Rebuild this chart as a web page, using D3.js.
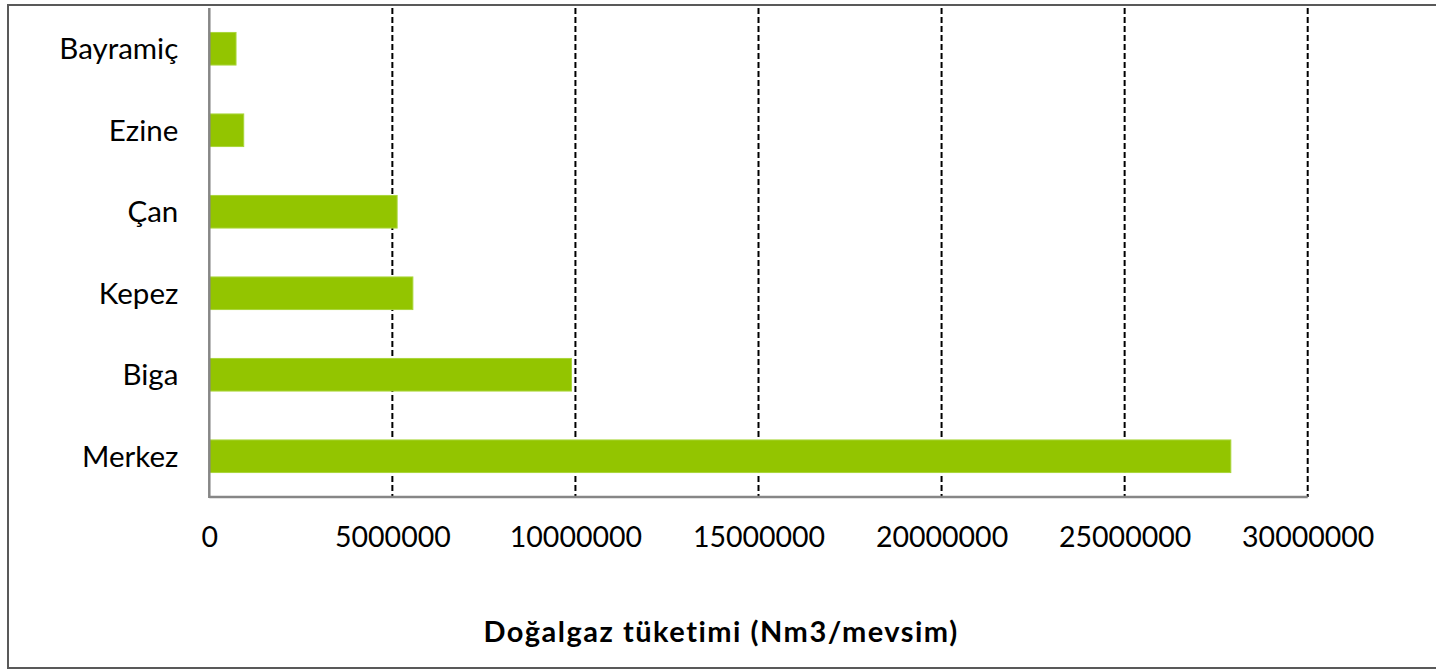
<!DOCTYPE html>
<html>
<head>
<meta charset="utf-8">
<script src="https://cdn.jsdelivr.net/npm/d3@7"></script>
<style>
  html, body { margin: 0; padding: 0; background: #fff; }
  svg { display: block; }
  text { font-family: Lato, "Open Sans", sans-serif; fill: #000; }
</style>
</head>
<body>
<svg id="chart" width="1436" height="671"></svg>
<script>
// Natural gas consumption by district (Nm3 per season)
const districts = ["Bayramiç", "Ezine", "Çan", "Kepez", "Biga", "Merkez"];
const consumption = [730000, 940000, 5130000, 5560000, 9890000, 27900000];
const xTicks = [0, 5000000, 10000000, 15000000, 20000000, 25000000, 30000000];
const xTitle = "Doğalgaz tüketimi (Nm3/mevsim)";

const rows = districts.map((d, i) => ({ name: d, value: consumption[i] }));

const svg = d3.select("#chart");
const W = 1436, H = 671;

// outer chart frame (right edge runs past the canvas)
svg.append("rect")
  .attr("x", 8).attr("y", 5)
  .attr("width", W).attr("height", 663)
  .attr("fill", "#fff")
  .attr("stroke", "#595959").attr("stroke-width", 2);

const plot = { left: 209.3, right: 1307.7, top: 8, bottom: 497 };

const x = d3.scaleLinear()
  .domain([0, 30000000])
  .range([plot.left, plot.right]);

const y = d3.scaleBand()
  .domain(districts)
  .range([plot.top, plot.bottom])
  .paddingInner(0.6)
  .paddingOuter(0.3);

// dashed vertical gridlines
svg.append("g")
  .selectAll("line")
  .data(xTicks.filter(t => t > 0))
  .join("line")
  .attr("x1", d => x(d)).attr("x2", d => x(d))
  .attr("y1", plot.top).attr("y2", plot.bottom)
  .attr("stroke", "#000")
  .attr("stroke-width", 2)
  .attr("stroke-dasharray", "6,3");

// bars
svg.append("g")
  .selectAll("rect")
  .data(rows)
  .join("rect")
  .attr("x", x(0))
  .attr("y", d => y(d.name))
  .attr("width", d => x(d.value) - x(0))
  .attr("height", y.bandwidth())
  .attr("fill", "#93c500")
  .attr("stroke", "#a9d63a")
  .attr("stroke-width", 1);

// x axis
const xAxis = d3.axisBottom(x)
  .tickValues(xTicks)
  .tickFormat(d3.format("d"))
  .tickSize(0)
  .tickPadding(30);

const gx = svg.append("g")
  .attr("transform", `translate(0,${plot.bottom})`)
  .call(xAxis);
gx.select(".domain").remove();
gx.selectAll("text")
  .style("font-family", "Lato, sans-serif")
  .style("font-size", "28.5px")
  .attr("fill", "#000");

svg.append("line")
  .attr("x1", plot.left).attr("x2", plot.right)
  .attr("y1", plot.bottom).attr("y2", plot.bottom)
  .attr("stroke", "#868686").attr("stroke-width", 2.5);

// y axis
const yAxis = d3.axisLeft(y).tickSize(0).tickPadding(31);
const gy = svg.append("g")
  .attr("transform", `translate(${plot.left},0)`)
  .call(yAxis);
gy.select(".domain").remove();
gy.selectAll("text")
  .style("font-family", "Lato, sans-serif")
  .style("font-size", "29.5px")
  .attr("dy", "0.36em")
  .attr("fill", "#000");

svg.append("line")
  .attr("x1", plot.left).attr("x2", plot.left)
  .attr("y1", plot.top).attr("y2", plot.bottom + 1)
  .attr("stroke", "#868686").attr("stroke-width", 2.5);

// axis title
svg.append("text")
  .attr("x", 721)
  .attr("y", 642)
  .attr("text-anchor", "middle")
  .style("font-weight", "bold")
  .style("font-size", "29px")
  .style("letter-spacing", "1.5px")
  .text(xTitle);
</script>
</body>
</html>
